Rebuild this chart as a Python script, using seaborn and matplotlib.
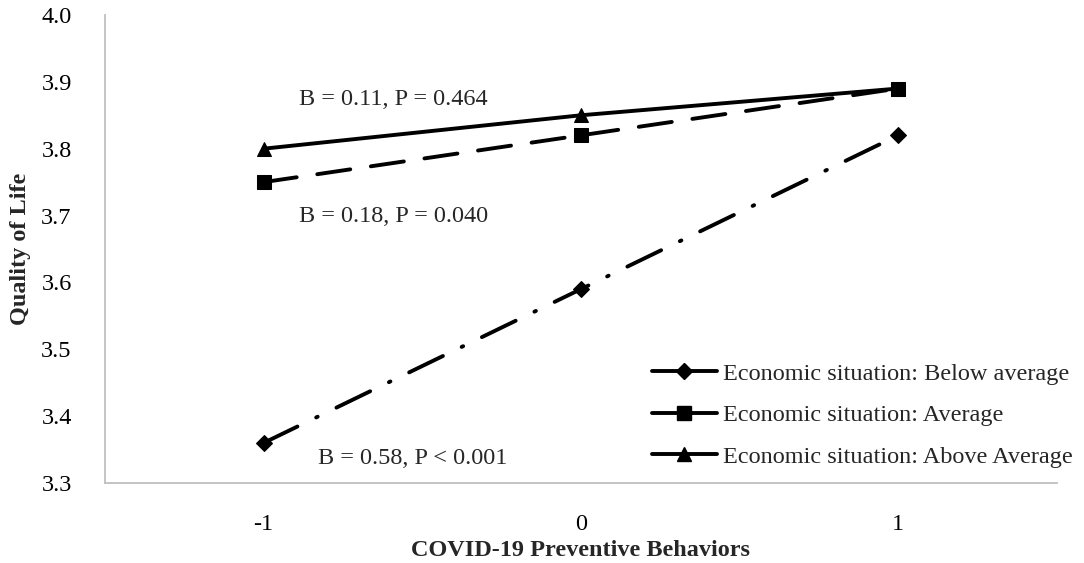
import matplotlib
matplotlib.use("Agg")
import matplotlib.pyplot as plt
from matplotlib.lines import Line2D
import seaborn as sns
import pandas as pd

# values
behavior_levels = [-1, 0, 1]
below_average = [3.36, 3.59, 3.82]
average = [3.75, 3.82, 3.89]
above_average = [3.80, 3.85, 3.89]

series_names = [
    "Economic situation: Below average",
    "Economic situation: Average",
    "Economic situation: Above Average",
]
annotations = [
    ("B = 0.11, P = 0.464", -0.89, 3.873),
    ("B = 0.18, P = 0.040", -0.89, 3.698),
    ("B = 0.58, P < 0.001", -0.83, 3.337),
]

df = pd.DataFrame({
    "x": behavior_levels * 3,
    "y": below_average + average + above_average,
    "group": [n for n in series_names for _ in behavior_levels],
})

sns.set_theme(style="white")
plt.rcParams["font.family"] = ["Liberation Serif", "DejaVu Serif"]
plt.rcParams["lines.scale_dashes"] = False

fig = plt.figure(figsize=(10.84, 5.63), dpi=100)
ax = fig.add_axes([0.0969, 0.1421, 0.8781, 0.8313])

markers = dict(zip(series_names, ["D", "s", "^"]))
dashes = dict(zip(series_names, [(27, 15, 1.2, 15), (24, 15), ""]))
sizes = [8.5, 10, 10.5]

sns.lineplot(data=df, x="x", y="y", hue="group", style="group",
             palette=["black"] * 3, markers=markers, dashes=dashes,
             linewidth=2.8, markersize=10, markeredgecolor="black",
             ax=ax, legend=False)

for line, ms in zip(ax.lines, sizes):
    line.set_markersize(ms)
    line.set_dash_capstyle("round")

ax.set_xlim(-1.5, 1.5)
ax.set_ylim(3.3, 4.0)
ax.set_xticks(behavior_levels)
ax.set_xticklabels([str(v) for v in behavior_levels])
ax.set_yticks([3.3, 3.4, 3.5, 3.6, 3.7, 3.8, 3.9, 4.0])
ax.tick_params(axis="both", labelsize=17.5, length=0, colors="black")
ax.tick_params(axis="y", pad=24)
ax.tick_params(axis="x", pad=22)

for side in ["top", "right"]:
    ax.spines[side].set_visible(False)
for side in ["left", "bottom"]:
    ax.spines[side].set_color("#bfbfbf")
    ax.spines[side].set_linewidth(1.3)

ax.set_xlabel("COVID-19 Preventive Behaviors", fontsize=17.5,
              fontweight="bold", labelpad=4)
ax.set_ylabel("Quality of Life", fontsize=17.5, fontweight="bold", labelpad=7)

for text, tx, ty in annotations:
    ax.text(tx, ty, text, fontsize=17.5, ha="left", va="center")

handles = [
    Line2D([], [], color="black", lw=2.8, marker=m, markersize=s)
    for m, s in zip(["D", "s", "^"], sizes)
]
ax.legend(handles, series_names, loc="lower left",
          bbox_to_anchor=(0.564, 0.012), frameon=False, fontsize=17.5,
          handlelength=2.7, handletextpad=0.25, labelspacing=0.8,
          borderaxespad=0)

fig.savefig("out.png", dpi=100)
